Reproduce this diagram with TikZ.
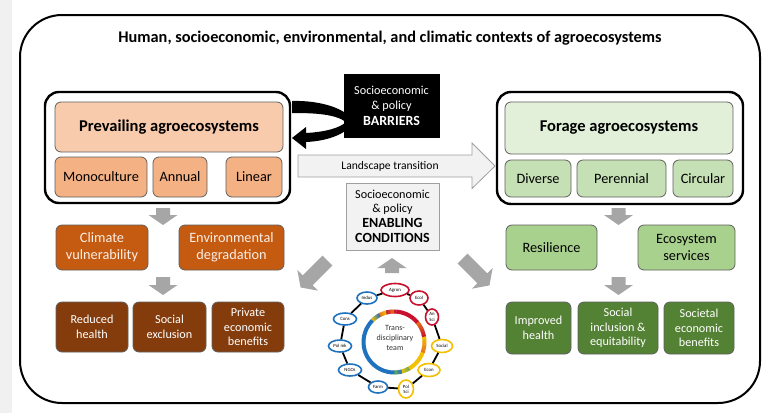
\documentclass[tikz,border=0pt]{standalone}
\usepackage{fontspec}
\setmainfont{Carlito}
\usetikzlibrary{arrows.meta,calc,shapes.geometric}
\definecolor{pmain}{HTML}{F8CBAD}
\definecolor{psub}{HTML}{F4B183}
\definecolor{porange}{HTML}{C55A11}
\definecolor{pbrown}{HTML}{843C0C}
\definecolor{fmain}{HTML}{E2F0D9}
\definecolor{fsub}{HTML}{C5E0B4}
\definecolor{fmid}{HTML}{A9D18E}
\definecolor{fdark}{HTML}{548235}
\definecolor{boxline}{HTML}{606060}
\definecolor{arrowgray}{HTML}{A6A6A6}
\definecolor{lightfill}{HTML}{F2F2F2}
\definecolor{rred}{HTML}{C8102E}
\definecolor{rorange}{HTML}{E8701A}
\definecolor{ryellow}{HTML}{F2C000}
\definecolor{rgreen}{HTML}{6AA84F}
\definecolor{rblue}{HTML}{1F72BE}
\definecolor{lighttext}{HTML}{FBEFE6}
\newcommand{\grayarrow}[4]{%
  \fill[arrowgray, shift={(#1,#2)}, rotate=#3] (-#4/2,-7) -- (#4/2-10,-7) -- (#4/2-10,-14.5) -- (#4/2,0) -- (#4/2-10,14.5) -- (#4/2-10,7) -- (-#4/2,7) -- cycle;}
\tikzset{
  bx/.style={rounded corners=6pt, draw=boxline, line width=0.8pt, align=center, inner sep=0pt},
  grp/.style={rounded corners=14pt, draw=black, line width=2.4pt, inner sep=0pt},
  sz/.style 2 args={minimum width=#1pt, minimum height=#2pt},
  small/.style={ellipse, fill=white, line width=1.6pt, inner sep=0pt, align=center, font=\fontsize{4.8}{5.2}\selectfont},
  fA/.style={font=\fontsize{16.5}{19}\selectfont\bfseries},
  fB/.style={font=\fontsize{14.3}{17}\selectfont},
  fC/.style={font=\fontsize{12.2}{14.5}\selectfont},
}
\begin{document}
\begin{tikzpicture}[x=1pt,y=-1pt]
\useasboundingbox (0,0) rectangle (781,413);
\fill[white] (0,0) rectangle (781,413);
\fill[gray!12] (0,0) rectangle (12,413);
% outer frame
\node[draw=black, line width=2pt, rounded corners=42pt, sz={740}{388}] (outer) at (390,209) {};
\node[font=\fontsize{16.3}{18}\selectfont\bfseries] (title) at (390,38) {Human, socioeconomic, environmental, and climatic contexts of agroecosystems};
% left group
\node[grp, sz={245}{111}] (grpL) at (167.5,147.5) {};
\node[bx, fill=pmain, sz={228}{50}, fA] (prev) at (169,127) {Prevailing agroecosystems};
\node[bx, fill=psub, sz={92}{40}, fB] (mono) at (101,177) {Monoculture};
\node[bx, fill=psub, sz={54}{40}, fB] (annual) at (180,177) {Annual};
\node[bx, fill=psub, sz={56}{40}, fB] (linear) at (254,177) {Linear};
% barrier curved arrow (from the group box back to it)
\coordinate (barA) at (292,101);
\coordinate (barB) at (292,138);
\fill[black] (barA) .. controls (322,100) and (350,110) .. (352,122)
  .. controls (350,132) and (330,141) .. (306,142) -- (306,149) -- (barB) -- (306,127) -- (306,133)
  .. controls (325,132) and (340,128) .. (346,122)
  .. controls (335,114) and (315,113) .. (292,113) -- cycle;
% right group
\node[grp, sz={246}{112}] (grpR) at (620,148) {};
\node[bx, fill=fmain, sz={228}{52}, fA] (forage) at (619,128) {Forage agroecosystems};
\node[bx, fill=fsub, sz={66}{37}, fB] (diverse) at (538,178.5) {Diverse};
\node[bx, fill=fsub, sz={89}{37}, fB] (perennial) at (621.5,178.5) {Perennial};
\node[bx, fill=fsub, sz={60}{37}, fB] (circular) at (703,178.5) {Circular};
% barriers box
\node[fill=black, draw=black, sz={95}{63}, align=center, inner sep=0pt, text=white, font=\fontsize{12.2}{15.5}\selectfont] (barriers) at (391.5,105.5) {Socioeconomic\\ \& policy\\ {\fontsize{14}{15.5}\selectfont\bfseries BARRIERS}};
% landscape transition arrow
\filldraw[fill=lightfill, draw=gray!75, line width=0.8pt] (298,155) -- (472,155) -- (472,143) -- (495,166) -- (472,188.5) -- (472,177) -- (298,177) -- cycle;
\node[font=\fontsize{11.6}{12}\selectfont] (land) at (390,166.5) {Landscape transition};
% enabling box
\node[fill=lightfill, draw=gray!75, line width=0.8pt, sz={93}{67}, align=center, inner sep=0pt, font=\fontsize{12.2}{14}\selectfont] (enabling) at (392.5,216.5) {Socioeconomic\\ \& policy\\[0.5pt] {\fontsize{14}{17}\selectfont\bfseries ENABLING}\\[1.5pt] {\fontsize{14}{17}\selectfont\bfseries CONDITIONS}};
% left consequences
\node[bx, fill=porange, sz={92}{45}, fB, text=lighttext] (climate) at (102,247.5) {Climate\\ vulnerability};
\node[bx, fill=porange, sz={105}{45}, fB, text=lighttext] (envdeg) at (231.5,247.5) {Environmental\\ degradation};
\node[bx, fill=pbrown, sz={72}{50}, fC, text=white] (reduced) at (92,327) {Reduced\\ health};
\node[bx, fill=pbrown, sz={73}{50}, fC, text=white] (socexcl) at (169.5,327) {Social\\ exclusion};
\node[bx, fill=pbrown, sz={72}{50}, fC, text=white] (private) at (248,327) {Private\\ economic\\ benefits};
% right consequences
\node[bx, fill=fmid, sz={91}{45}, fB] (resil) at (551.5,247.5) {Resilience};
\node[bx, fill=fmid, sz={97}{45}, fB] (ecoserv) at (686.5,247.5) {Ecosystem\\ services};
\node[bx, fill=fdark, sz={65}{52}, fC, text=white] (improved) at (538.5,328) {Improved\\ health};
\node[bx, fill=fdark, sz={80}{52}, fC, text=white] (socinc) at (618,328) {Social\\ inclusion \&\\ equitability};
\node[bx, fill=fdark, sz={70}{52}, fC, text=white] (societal) at (699,328) {Societal\\ economic\\ benefits};
% gray arrows
\grayarrow{163}{216.5}{-90}{17}
\grayarrow{163}{286}{-90}{18}
\grayarrow{618.5}{216.5}{-90}{17}
\grayarrow{618.5}{286}{-90}{18}
\grayarrow{392}{265.5}{90}{15}
\grayarrow{314}{274}{225}{38}
\grayarrow{476}{272}{-45}{38}
% transdisciplinary team
\node[align=center, text=black!80, font=\fontsize{8}{10}\selectfont] (team) at (395,338) {Trans-\\ disciplinary\\ team};
\foreach \s/\e/\ca/\cb in {-90/-75/rblue/rgreen, -75/-60/rgreen/ryellow, -60/-20/ryellow/ryellow, -20/10/ryellow/rorange, 10/40/rorange/rred, 40/90/rred/rred, 90/105/rred/rorange, 105/118/rorange/ryellow, 118/135/ryellow/rblue, 135/270/rblue/rblue}{
  \foreach \i in {0,...,9}{
    \pgfmathsetmacro\aa{\s+(\e-\s)*\i/10}
    \pgfmathsetmacro\bb{\s+(\e-\s)*(\i+1)/10+0.6}
    \pgfmathsetmacro\pp{95-\i*10}
    \draw[draw=\cb!\pp!\ca, line width=4pt] ($(394,342)+(-\aa:30.5)$) arc[start angle=-\aa, end angle=-\bb, radius=30.5];
  }
}
\node[small, draw=rred, sz={28}{13}] (agron) at (395,290) {Agron};
\node[small, draw=rred, sz={18}{14}] (ecol) at (419,298) {Ecol};
\node[small, draw=rred, sz={13}{16}] (ansci) at (432,317) {An\\Sci};
\node[small, draw=ryellow, sz={21}{13}] (socl) at (442,346) {Social};
\node[small, draw=ryellow, sz={22}{13}] (econ) at (429,370) {Econ};
\node[small, draw=ryellow, sz={15}{18}] (polsci) at (406,389) {Pol\\Sci};
\node[small, draw=rblue, sz={19}{12}] (farm) at (378,387) {Farm};
\node[small, draw=rblue, sz={23}{12}] (ngos) at (350,370) {NGOs};
\node[small, draw=rblue, sz={23}{12}] (polmk) at (340,346) {Pol mk};
\node[small, draw=rblue, sz={23}{12}] (cons) at (345,319) {Cons};
\node[small, draw=rblue, sz={20}{12}] (indus) at (367,298) {Indus};
\draw[line width=1.8pt] (agron) -- (ecol) -- (ansci) -- (socl) -- (econ) -- (polsci) -- (farm) -- (ngos) -- (polmk) -- (cons) -- (indus) -- (agron);
\end{tikzpicture}
\end{document}
